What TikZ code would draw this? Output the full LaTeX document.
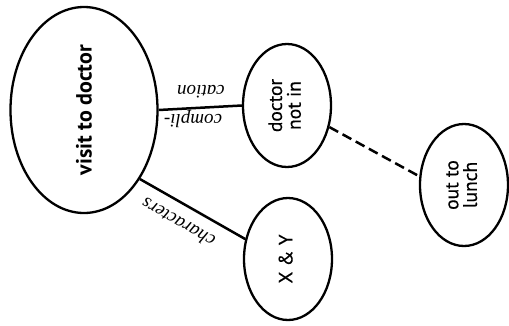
\documentclass[tikz,border=0pt]{standalone}
\usepackage{fontspec}
\setmainfont{Liberation Serif}
\newfontfamily\nodefont[FakeBold=0.3]{PT Sans}
\newfontfamily\bignodefont{PT Sans}
\usetikzlibrary{shapes.geometric}
\tikzset{
  oval/.style={draw, ellipse, line width=2.3pt, inner sep=0pt},
  conn/.style={line width=2.5pt},
  dashconn/.style={line width=2.5pt, dash pattern=on 10pt off 5pt},
  elabel/.style={font=\fontsize{19}{22}\selectfont\itshape, inner sep=0pt},
}
\newcommand{\ntxt}[1]{\rotatebox{90}{\nodefont\fontsize{19.5}{16.5}\selectfont\begin{tabular}{@{}c@{}}#1\end{tabular}}}
\begin{document}
\begin{tikzpicture}[x=1pt,y=-1pt]
\useasboundingbox (0,0) rectangle (509,325);
\node[oval, minimum width=147pt, minimum height=206pt] (visit) at (84,110)
  {\rotatebox{90}{\bignodefont\bfseries\fontsize{22}{24}\selectfont visit to doctor}};
\node[oval, minimum width=88pt, minimum height=123pt] (notin) at (287,105.5)
  {\ntxt{doctor\\not in}};
\node[oval, minimum width=88pt, minimum height=122pt] (xy) at (288,259)
  {\ntxt{X \& Y}};
\node[oval, minimum width=88pt, minimum height=122pt] (lunch) at (464,185)
  {\ntxt{out to\\lunch}};
\draw[conn] (visit.east) -- (notin.west);
\draw[conn] (visit.-51) -- (xy.155);
\draw[dashconn] (notin.-27) -- (lunch.169);
\node[elabel, rotate=180] (cation) at (201,92) {cation};
\node[elabel, rotate=180] (compli) at (193,119) {compli-};
\node[elabel, rotate=150.4] (chars) at (178,223) {characters};
\end{tikzpicture}
\end{document}
